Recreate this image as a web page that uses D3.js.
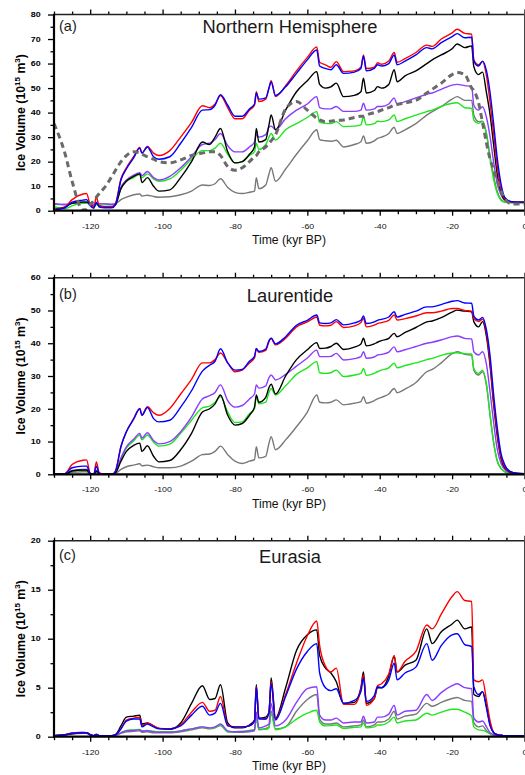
<!DOCTYPE html>
<html>
<head>
<meta charset="utf-8">
<script src="https://cdn.jsdelivr.net/npm/d3@7"></script>
<style>
  html, body { margin: 0; padding: 0; background: #fff; }
  svg { display: block; font-family: "Liberation Sans", Arial, Helvetica, sans-serif; }
</style>
</head>
<body>
<svg id="chart" width="525" height="775"></svg>
<script>
// Time axis shared by every series (kyr BP, negative = before present)
const time = [
  -130, -127, -125, -122, -121, -120, -119, -118.3, -117.5, -116,
  -114, -113, -111.5, -110, -108, -106.3, -105.7, -104.2, -102.5, -101,
  -98, -95, -92, -89, -87, -85.5, -84, -82, -80, -78,
  -76, -74.6, -74.1, -73.4, -71.5, -70.6, -70, -68.8, -66, -63,
  -60, -57.4, -56.6, -55, -53.5, -52, -50, -47, -45.2, -44.5,
  -43.7, -41.5, -40.6, -39.5, -37.5, -36, -35.2, -33, -30, -27,
  -25.5, -23, -20, -18.6, -16.5, -14.6, -14, -12.7, -11.6, -10.5,
  -9.5, -8.5, -7.5, -6.5, -5.5, -4, -2, 0
];

const xTicksMajor = [-120, -100, -80, -60, -40, -20, 0];

// (a) Northern Hemisphere, 10^15 m^3
const nhRed = [
  0.5, 1.5, 4.5, 6.8, 7, 2.5, 1.5, 5.5, 2, 1.5,
  1.5, 3, 13, 17.5, 22, 25.8, 23.5, 26.2, 23.5, 22.5,
  24.5, 30, 36, 42.8, 42, 43.5, 47, 42, 37.5, 37.5,
  41, 43, 48.5, 44.5, 45.5, 50, 53, 46.5, 51, 57,
  62.5, 66.8, 60.5, 59.5, 58.5, 60.8, 56.7, 57, 58.5, 63.5,
  58, 58.5, 60.3, 59.7, 61, 64.5, 60.5, 62, 64.5, 67.5,
  67, 70, 72.5, 74, 72.3, 72, 61.5, 59.5, 60.8, 55,
  44, 31, 18, 9, 5, 3.8, 3.5, 3.5
];
const nhBlue = [
  0.3, 1.2, 3.5, 4.3, 4.5, 2, 1, 3.5, 1.5, 1.2,
  1.2, 2.5, 12.5, 17, 21.5, 25.5, 23.5, 26, 22, 21,
  22, 27.5, 34, 41, 41.2, 43, 47.3, 43, 38.5, 38.5,
  41.5, 43.5, 48, 45.5, 46, 50, 52.5, 47, 50.5, 56,
  61.5, 65.5, 59, 58, 57.5, 59.5, 56, 56.5, 58, 63,
  57, 58, 59.5, 59, 60, 63.5, 59.5, 61, 63.5, 66.5,
  66, 68.5, 71, 72.2, 70.5, 70.7, 61, 59, 61, 57,
  48, 35, 21, 11, 5.5, 3.8, 3.5, 3.5
];
const nhBlack = [
  0.5, 1.5, 3, 3.5, 3.5, 2.5, 1.5, 3, 2, 1.5,
  1.5, 2.5, 9, 12, 14, 15, 11.5, 13.5, 10, 8,
  8.5, 13.5, 20, 28, 27, 30, 33.5, 24, 19.5, 20,
  23, 26, 33.5, 28, 29, 35, 39, 33, 41, 48.5,
  53, 56.7, 51.5, 50, 50.5, 52, 46.5, 47, 48.5, 54,
  48, 49, 50.6, 50, 51.5, 57.5, 52.6, 55, 57, 60,
  61.5, 63.5, 66, 68, 66.5, 67.2, 58.7, 55.5, 56.5, 48,
  39, 26.5, 14.5, 7.5, 4.5, 3.7, 3.5, 3.5
];
const nhPurple = [
  3, 2.5, 3, 3.5, 3.5, 3, 2, 3, 2.8, 2.8,
  2.5, 3, 9.5, 12.5, 14.5, 15.5, 14.3, 16, 13.5, 12.5,
  14, 17.5, 22, 27, 27.5, 29, 31.5, 26.5, 24, 24,
  26, 28, 31, 30, 31, 34, 34.5, 33, 37.5, 41,
  43.5, 46.5, 42, 41.5, 41.5, 42.5, 40.5, 40.5, 41, 43.8,
  41, 41.5, 42.5, 42.5, 43.5, 46, 43.5, 44.5, 46, 47.5,
  48, 49.5, 51.2, 51.5, 51, 50.6, 43, 41, 42.4, 38,
  30, 19.5, 11, 6.5, 4.5, 3.7, 3.5, 3.5
];
const nhGreen = [
  1.6, 0.8, 2, 3, 3, 2.5, 1.5, 2.5, 2, 1.8,
  1.8, 2.5, 9, 12, 13.5, 14.8, 13.5, 15, 13, 12,
  13, 16.5, 21, 24.5, 24.5, 25.5, 27.5, 23, 19.5, 20,
  22.5, 24, 27.5, 25, 27, 30, 31.5, 28.8, 33, 35.5,
  38, 40.4, 36, 35.6, 35.5, 36.3, 34.3, 34.5, 35, 38.3,
  35, 35.5, 36.5, 36.3, 37, 39, 36.3, 37.5, 39, 40.4,
  41, 42.5, 43.8, 44, 42, 41.7, 37, 35.6, 36.3, 31,
  21, 12.5, 7, 4.3, 3.5, 3.3, 3.2, 3.2
];
const nhGray = [
  2.6, 2.5, 3, 3.5, 3.5, 3.2, 2.5, 2.8, 2.8, 2.8,
  2.6, 2.8, 4.5, 5.5, 6.5, 6.8, 6, 6.3, 5.8, 5.5,
  5.7, 6.5, 8, 10.5, 10.3, 11, 13, 9.5, 7.5, 7,
  7.5, 8, 13.5, 9, 10.5, 15, 17.5, 12, 17, 23,
  28.5, 33, 29, 28.5, 28.3, 28.7, 26, 27, 28.1, 30.5,
  27.5, 28.5, 29.5, 30, 31.5, 34, 31.5, 33, 35.5, 39,
  40.4, 42.5, 45.5, 46.5, 45, 45, 39, 36.3, 36.5, 31.5,
  22, 14, 7.7, 4.6, 3.6, 3.3, 3.2, 3.2
];
const nhDashed = [
  35.5, 23.5, 12, 0.3, 0.5, 2.5, 4, 5.5, 7, 9.5,
  14, 16.5, 20, 22.5, 24, 23.5, 23, 22, 21, 20,
  19.5, 20.7, 22.5, 23.5, 24, 24, 22.5, 18, 16.5, 17.5,
  20, 22, 22.5, 24, 26, 27.5, 28.5, 31, 41.5, 44.5,
  41, 37.7, 37, 36.3, 36.5, 36.8, 37, 38, 38.5, 38.5,
  39, 40, 40.4, 41, 42, 43, 43.3, 44, 45, 48,
  49.5, 52, 55.5, 56.3, 55.5, 50, 49, 44, 36, 27.5,
  21, 16.6, 12, 8, 5, 3, 2.7, 2.7
];

// (b) Laurentide
const ltRed = [
  0, 0.2, 3, 4.3, 4.4, 0.3, 0, 3.8, 0.5, 0,
  0, 1, 8.5, 13, 17, 20.1, 18.1, 20.6, 18.8, 18,
  20.1, 24.5, 29, 34, 34, 35, 37, 34, 31.3, 31.8,
  34, 35.5, 38.4, 37.2, 37.8, 40.5, 41.5, 39.5, 41.5, 45,
  46.5, 48, 45.5, 45.3, 45.5, 46.6, 44.8, 45.3, 46.3, 47.6,
  45, 45.5, 46, 46.3, 47, 48.6, 47.1, 47.5, 48.3, 49.3,
  49.3, 49.8, 50.6, 50.6, 50, 49.8, 47.6, 46.6, 47.3, 43,
  34, 22, 12.5, 5.4, 2.5, 0.8, 0.3, 0.2
];
const ltBlue = [
  0, 0.2, 2, 2.5, 2.5, 0.3, 0, 2.5, 0.3, 0,
  0, 1, 8.5, 13, 16.8, 20, 18, 20.4, 17, 16,
  16.5, 20.5, 25.5, 31.5, 33.3, 34.5, 38.3, 34, 31.8, 32,
  34.5, 36, 38.3, 37.5, 38.2, 40.8, 41.5, 39.8, 42, 45.5,
  47, 48.6, 46.2, 46, 46.2, 47.2, 45.6, 46.2, 47, 48.3,
  46, 46.5, 47, 47.3, 48, 49.6, 48, 48.8, 49.8, 51.1,
  51.1, 51.8, 52.8, 53, 52.3, 52.2, 48.3, 47.1, 47.9, 44,
  36, 24, 14, 6.4, 3, 0.9, 0.3, 0.2
];
const ltBlack = [
  0, 0, 1, 1.3, 1.3, 0.2, 0, 1, 0.2, 0,
  0, 0.5, 4, 7, 8.8, 9.5, 7, 8.7, 5.5, 3.8,
  4.2, 7.5, 12.5, 19, 20, 21.5, 24.2, 18, 15, 15.5,
  18, 20.5, 24.2, 22, 23.5, 26.5, 27.5, 24.5, 30, 35,
  38, 40.2, 38.4, 38.5, 39, 40, 38.1, 38.8, 39.8, 41.5,
  39.2, 39.8, 40.3, 40.8, 41.5, 43, 42, 43.3, 44.8, 46.5,
  46.8, 47.8, 49.5, 50.1, 49.8, 49.6, 46.6, 45, 46.6, 42,
  33, 21, 11.5, 4.9, 2, 0.7, 0.2, 0.1
];
const ltPurple = [
  0, 0, 1.2, 1.5, 1.5, 0.2, 0, 1.2, 0.2, 0,
  0, 0.5, 5, 8.4, 10.7, 12.5, 11, 12.7, 10.3, 9.3,
  10, 13, 17.5, 23, 24, 25, 27.3, 22.5, 20.5, 21,
  23, 24.5, 27.3, 26.3, 27, 29.5, 30.3, 28.8, 30.5, 33,
  35.5, 37.9, 35.9, 35.9, 36, 36.9, 34.9, 35.3, 35.9, 37.4,
  35.4, 35.8, 36.4, 36.6, 37.3, 38.9, 37.4, 38, 39, 40,
  40.3, 41, 42, 42.2, 41.5, 41.3, 37.4, 36.4, 37.4, 33.5,
  25, 15.5, 7.5, 3.4, 1.5, 0.5, 0.2, 0.1
];
const ltGreen = [
  0, 0, 1, 1.2, 1.2, 0.2, 0, 1, 0.2, 0,
  0, 0.5, 4.8, 8, 10.2, 12, 10.5, 12, 9.8, 8.6,
  9.2, 12.5, 16.5, 20.3, 20.8, 22, 23.7, 19, 15.8, 16,
  18.5, 20, 23.7, 21.5, 22, 25, 26.2, 24.2, 27, 30.5,
  32.5, 34.4, 31, 30.8, 31, 31.8, 29.8, 30.3, 30.8, 32.3,
  30.2, 30.8, 31.3, 31.8, 32.5, 33.9, 32.5, 33.2, 34, 35,
  35.4, 36.3, 37, 37.1, 36.8, 36.7, 32.3, 30.8, 31.8, 27.5,
  18, 9.5, 4, 1.8, 0.8, 0.3, 0.1, 0.1
];
const ltGray = [
  0, 0, 0.6, 0.8, 0.8, 0.1, 0, 0.6, 0.1, 0,
  0, 0.3, 1.5, 2.3, 2.8, 3.2, 2.6, 2.8, 2.3, 2,
  2, 2.5, 4, 6, 6.2, 7, 8.6, 6, 4, 3.3,
  4, 4.5, 8.4, 5, 5.5, 9.5, 11.5, 7.5, 10.5, 14.5,
  19, 24.2, 22, 21.8, 22, 22.7, 21.2, 21.7, 22.2, 23.7,
  21.7, 22.5, 23, 23.5, 24.5, 26.2, 24.9, 26, 28, 31.3,
  32, 34, 36.8, 37.4, 36.6, 36.4, 31.8, 30.3, 31.3, 27,
  18, 9.5, 4, 1.8, 0.8, 0.3, 0.1, 0.1
];

// (c) Eurasia
const euRed = [
  0.1, 0.2, 0.35, 0.4, 0.4, 0.2, 0.1, 0.2, 0.1, 0.1,
  0.1, 0.2, 0.8, 1.7, 1.9, 2, 1.1, 1.4, 1.1, 0.85,
  0.8, 1.2, 2.5, 3.5, 2.6, 2.7, 4.1, 1.2, 1, 1,
  1.1, 1.6, 5.1, 1.9, 1.8, 2.5, 5.6, 1.8, 4.3, 7.5,
  10.3, 11.8, 9.3, 7.2, 6.6, 7, 3.3, 3.3, 4.8, 6.3,
  3.2, 3.9, 5.2, 5.4, 6.4, 8.3, 6.6, 7.7, 8.7, 11.4,
  11, 12.5, 14.3, 14.8, 13.9, 13.8, 5.8, 5.6, 5.8, 3.7,
  1.6, 0.4, 0.2, 0.15, 0.1, 0.1, 0.1, 0.1
];
const euBlue = [
  0.1, 0.2, 0.35, 0.4, 0.4, 0.2, 0.1, 0.25, 0.1, 0.1,
  0.1, 0.2, 0.8, 1.6, 1.8, 1.8, 1.0, 1.3, 1.0, 0.8,
  0.8, 1.1, 2.2, 3.1, 2.2, 2.4, 3.4, 1.1, 1, 1,
  1.1, 1.6, 5.0, 1.8, 1.8, 2.4, 5.4, 1.7, 4.1, 6.9,
  8.7, 9.5, 6.5, 5, 4.7, 4.9, 3.4, 3.7, 4.6, 6,
  3.6, 4.2, 5.1, 5, 5.8, 7.5, 5.8, 6.5, 7.1, 9.5,
  7.8, 9.3, 10.4, 10.5, 9.4, 9.2, 5.1, 4.3, 4.6, 2.9,
  1.1, 0.4, 0.2, 0.15, 0.1, 0.1, 0.1, 0.1
];
const euBlack = [
  0.1, 0.2, 0.3, 0.4, 0.4, 0.2, 0.1, 0.2, 0.1, 0.1,
  0.1, 0.2, 1.1, 2.0, 2.1, 2.2, 1.3, 1.4, 1.1, 0.85,
  0.75, 1.4, 3.4, 5.2, 3.8, 3.9, 5.3, 1.4, 0.9, 0.9,
  1.2, 1.7, 5.3, 1.9, 2, 2.5, 6, 1.9, 5, 8.8,
  10.4, 10.9, 8.3, 7, 6.5, 5.6, 3.4, 3.5, 5, 6.6,
  3.4, 3.9, 5, 5, 6.2, 8.2, 6.6, 7.3, 7.8, 11,
  9.5, 10.7, 11.5, 11.9, 11, 11.2, 4.3, 4.1, 4.6, 3.1,
  1.2, 0.4, 0.2, 0.15, 0.1, 0.1, 0.1, 0.1
];
const euPurple = [
  0.1, 0.2, 0.35, 0.45, 0.4, 0.2, 0.1, 0.2, 0.1, 0.1,
  0.1, 0.15, 0.4, 0.6, 0.65, 0.7, 0.55, 0.6, 0.5, 0.45,
  0.45, 0.6, 0.8, 1, 0.9, 1, 1.3, 0.6, 0.5, 0.5,
  0.6, 0.7, 2.5, 0.9, 1.1, 1.3, 3.4, 1.1, 1.7, 3.5,
  4.9, 5.1, 2.2, 1.7, 1.7, 1.9, 1.4, 1.5, 1.5, 2.1,
  1.4, 1.5, 2, 2, 2.3, 3.2, 2.2, 2.6, 2.7, 4.3,
  3.7, 4.5, 5.2, 5.4, 5, 4.9, 1.9, 1.5, 1.6, 1,
  0.4, 0.2, 0.1, 0.1, 0.1, 0.1, 0.1, 0.1
];
const euGreen = [
  0.1, 0.2, 0.35, 0.4, 0.4, 0.2, 0.1, 0.2, 0.1, 0.1,
  0.1, 0.15, 0.4, 0.65, 0.7, 0.75, 0.6, 0.65, 0.55, 0.5,
  0.5, 0.6, 0.8, 1, 0.85, 0.95, 1.2, 0.5, 0.5, 0.55,
  0.65, 0.75, 1.9, 0.8, 0.75, 0.9, 2.4, 0.7, 1, 1.8,
  2.4, 2.7, 1.5, 1.1, 1.15, 1.2, 0.85, 0.95, 1, 1.4,
  0.9, 1, 1.2, 1.2, 1.5, 2, 1.4, 1.6, 1.7, 2.4,
  2.2, 2.5, 2.8, 2.8, 2.5, 2.1, 1, 0.7, 0.65, 0.5,
  0.3, 0.15, 0.1, 0.1, 0.1, 0.1, 0.1, 0.1
];
const euGray = [
  0.1, 0.15, 0.3, 0.35, 0.35, 0.15, 0.1, 0.15, 0.1, 0.1,
  0.1, 0.15, 0.35, 0.5, 0.55, 0.6, 0.45, 0.5, 0.4, 0.4,
  0.4, 0.5, 0.7, 0.9, 0.8, 0.9, 1.15, 0.5, 0.45, 0.45,
  0.5, 0.6, 2, 0.7, 0.85, 1, 2.6, 0.8, 1, 2.6,
  3.8, 4.3, 1.8, 1.3, 1.3, 1.4, 1, 1.1, 1.2, 1.7,
  1, 1.2, 1.5, 1.5, 1.8, 2.6, 1.8, 2.1, 2.3, 3.4,
  3.1, 3.5, 3.9, 4, 3.7, 3.6, 1.4, 1, 1.1, 0.6,
  0.3, 0.15, 0.1, 0.1, 0.1, 0.1, 0.1, 0.1
];

const COLORS = {
  gray: '#787878', green: '#1ee61e', purple: '#8b3dff',
  black: '#000000', red: '#ff0000', blue: '#0000ff', dashed: '#6a6a6a'
};

const panels = [
  {
    id: 'a', tag: '(a)', title: 'Northern Hemisphere',
    top: 14.5, bottom: 210.7, yMax: 80, yMajor: 10, yMinor: 5,
    titleY: 33.3, tagY: 31,
    series: { gray: nhGray, green: nhGreen, purple: nhPurple, black: nhBlack, red: nhRed, blue: nhBlue },
    dashed: nhDashed
  },
  {
    id: 'b', tag: '(b)', title: 'Laurentide',
    top: 277.7, bottom: 474.3, yMax: 60, yMajor: 10, yMinor: 5,
    titleY: 301.5, tagY: 298.6,
    series: { gray: ltGray, green: ltGreen, purple: ltPurple, black: ltBlack, red: ltRed, blue: ltBlue }
  },
  {
    id: 'c', tag: '(c)', title: 'Eurasia',
    top: 540.7, bottom: 736.7, yMax: 20, yMajor: 5, yMinor: 2.5,
    titleY: 562.5, tagY: 559.6,
    series: { gray: euGray, green: euGreen, purple: euPurple, black: euBlack, red: euRed, blue: euBlue }
  }
];

const plotLeft = 54;
const plotRight = 524.5;
const svg = d3.select('#chart');

function range(start, stop, step) {
  const out = [];
  for (let v = start; v <= stop + 1e-9; v += step) out.push(+v.toFixed(4));
  return out;
}

function drawPanel(p) {
  const x = d3.scaleLinear().domain([-130, 0]).range([plotLeft, plotRight]);
  const y = d3.scaleLinear().domain([0, p.yMax]).range([p.bottom, p.top]);

  const g = svg.append('g').attr('class', `panel-${p.id}`);

  // clip the curves to the frame
  g.append('defs').append('clipPath')
    .attr('id', `clip-${p.id}`)
    .append('rect')
    .attr('x', plotLeft)
    .attr('y', p.top)
    .attr('width', plotRight - plotLeft)
    .attr('height', p.bottom - p.top);

  const line = d3.line()
    .x((d, i) => x(time[i]))
    .y(d => y(d))
    .curve(d3.curveMonotoneX);

  const curves = g.append('g').attr('clip-path', `url(#clip-${p.id})`);

  Object.entries(p.series).forEach(([key, values]) => {
    if (values.length !== time.length) console.warn(p.id, key, values.length);
    curves.append('path')
      .datum(values)
      .attr('fill', 'none')
      .attr('stroke', COLORS[key])
      .attr('stroke-width', 1.4)
      .attr('stroke-linejoin', 'round')
      .attr('d', line);
  });

  if (p.dashed) {
    curves.append('path')
      .datum(p.dashed)
      .attr('fill', 'none')
      .attr('stroke', COLORS.dashed)
      .attr('stroke-width', 3)
      .attr('stroke-dasharray', '6,4')
      .attr('d', line);
  }

  // x axes: majors with labels, minors every 5 kyr
  const xMinor = range(-130, 0, 5).filter(v => !xTicksMajor.includes(v));

  const bottomMajor = g.append('g')
    .attr('transform', `translate(0,${p.bottom})`)
    .call(d3.axisBottom(x).tickValues(xTicksMajor).tickSize(5).tickFormat(d => String(d)));
  bottomMajor.selectAll('text')
    .attr('y', 18.2)
    .attr('dy', 0)
    .attr('transform', 'scale(1.2,1)')
    .attr('font-size', '7.3px')
    .attr('font-family', '"Liberation Sans", Arial, sans-serif')
    .attr('fill', '#111');

  g.append('g')
    .attr('transform', `translate(0,${p.bottom})`)
    .call(d3.axisBottom(x).tickValues(xMinor).tickSize(3.5).tickFormat(''));

  g.append('g')
    .attr('transform', `translate(0,${p.top})`)
    .call(d3.axisTop(x).tickValues(xTicksMajor).tickSize(5).tickFormat(''));
  g.append('g')
    .attr('transform', `translate(0,${p.top})`)
    .call(d3.axisTop(x).tickValues(xMinor).tickSize(3).tickFormat(''));

  // y axes
  const yMajorVals = range(0, p.yMax, p.yMajor);
  const yMinorVals = range(0, p.yMax, p.yMinor).filter(v => !yMajorVals.includes(v));

  const leftMajor = g.append('g')
    .attr('transform', `translate(${plotLeft},0)`)
    .call(d3.axisLeft(y).tickValues(yMajorVals).tickSize(6).tickFormat(d => String(d)));
  leftMajor.selectAll('text')
    .attr('x', -9.8)
    .attr('dy', '0.34em')
    .attr('transform', 'scale(1.35,1)')
    .attr('font-size', '6.6px')
    .attr('font-weight', 'bold')
    .attr('font-family', '"Liberation Sans", Arial, sans-serif')
    .attr('fill', '#000');

  g.append('g')
    .attr('transform', `translate(${plotLeft},0)`)
    .call(d3.axisLeft(y).tickValues(yMinorVals).tickSize(3.5).tickFormat(''));

  g.selectAll('.domain').remove();
  g.selectAll('.tick line').attr('stroke', '#000').attr('stroke-width', 1.3);

  // frame
  g.append('line')
    .attr('x1', plotLeft).attr('x2', plotRight)
    .attr('y1', p.top).attr('y2', p.top)
    .attr('stroke', '#222').attr('stroke-width', 1.4);
  g.append('line')
    .attr('x1', plotRight).attr('x2', plotRight)
    .attr('y1', p.top).attr('y2', p.bottom)
    .attr('stroke', '#444').attr('stroke-width', 1);
  g.append('line')
    .attr('x1', plotLeft).attr('x2', plotRight)
    .attr('y1', p.bottom).attr('y2', p.bottom)
    .attr('stroke', '#000').attr('stroke-width', 2.2);
  g.append('line')
    .attr('x1', plotLeft).attr('x2', plotLeft)
    .attr('y1', p.top - 0.7).attr('y2', p.bottom + 1)
    .attr('stroke', '#000').attr('stroke-width', 2.2);

  // panel tag and title
  g.append('text')
    .attr('x', 59)
    .attr('y', p.tagY)
    .attr('font-size', '14.5px')
    .attr('fill', '#222')
    .text(p.tag);

  g.append('text')
    .attr('x', 290)
    .attr('y', p.titleY)
    .attr('text-anchor', 'middle')
    .attr('font-size', '18.3px')
    .attr('fill', '#1a1a1a')
    .text(p.title);

  // axis titles
  g.append('text')
    .attr('x', 289)
    .attr('y', p.bottom + 33.3)
    .attr('text-anchor', 'middle')
    .attr('font-size', '12.2px')
    .attr('fill', '#111')
    .text('Time (kyr BP)');

  const yl = g.append('text')
    .attr('transform', `translate(24.5,${(p.top + p.bottom) / 2}) rotate(-90)`)
    .attr('text-anchor', 'middle')
    .attr('font-size', '12.3px')
    .attr('font-weight', 'bold')
    .attr('fill', '#000');
  yl.append('tspan').text('Ice Volume (10');
  yl.append('tspan').attr('font-size', '8px').attr('dy', '-4.5').text('15');
  yl.append('tspan').attr('dy', '4.5').text(' m');
  yl.append('tspan').attr('font-size', '8px').attr('dy', '-4.5').text('3');
  yl.append('tspan').attr('dy', '4.5').text(')');
}

panels.forEach(drawPanel);
</script>
</body>
</html>
